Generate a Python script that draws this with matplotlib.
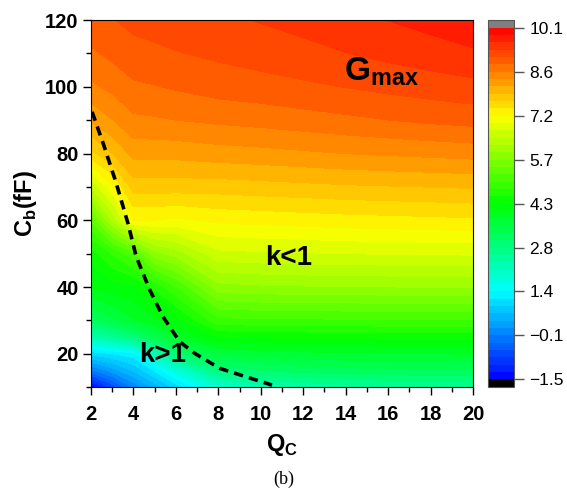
import numpy as np
import matplotlib
matplotlib.use('Agg')
import matplotlib.pyplot as plt
from matplotlib.colors import LinearSegmentedColormap
from matplotlib.ticker import MultipleLocator

# grid
qc = [2, 3, 4, 5, 6, 8, 10, 12, 14, 16, 18, 20]
cb = [10, 15, 20, 25, 30, 40, 50, 60, 70, 80, 90, 100, 110, 120]
g_max = [
    [-1.5, -0.7, 0.0, 0.5, 1.0, 1.9, 2.25, 2.4, 2.5, 2.55, 2.6, 2.62],
    [-0.1, 0.3, 0.7, 1.2, 1.8, 2.9, 3.1, 3.2, 3.25, 3.28, 3.3, 3.3],
    [1.0, 1.15, 1.3, 2.2, 3.0, 3.6, 3.7, 3.75, 3.78, 3.8, 3.82, 3.83],
    [2.3, 2.6, 2.9, 3.4, 3.8, 4.3, 4.33, 4.35, 4.36, 4.37, 4.38, 4.38],
    [3.2, 3.5, 3.8, 4.0, 4.2, 4.95, 4.97, 4.98, 4.99, 5.0, 5.0, 5.0],
    [4.1, 4.2, 4.25, 4.6, 5.0, 5.9, 5.95, 5.97, 5.98, 5.99, 6.0, 6.0],
    [4.4, 4.8, 5.2, 5.9, 6.1, 6.65, 6.68, 6.7, 6.72, 6.73, 6.74, 6.75],
    [5.3, 6.25, 7.2, 7.2, 7.15, 7.25, 7.28, 7.31, 7.34, 7.36, 7.38, 7.4],
    [6.5, 7.15, 7.8, 7.8, 7.8, 7.8, 7.83, 7.86, 7.89, 7.91, 7.93, 7.95],
    [7.6, 7.92, 8.25, 8.25, 8.25, 8.3, 8.33, 8.37, 8.41, 8.44, 8.47, 8.5],
    [8.2, 8.4, 8.6, 8.62, 8.65, 8.7, 8.74, 8.79, 8.84, 8.89, 8.94, 8.98],
    [8.6, 8.72, 8.85, 8.88, 8.92, 9.0, 9.04, 9.09, 9.14, 9.2, 9.25, 9.3],
    [8.85, 8.95, 9.05, 9.08, 9.12, 9.18, 9.24, 9.3, 9.37, 9.44, 9.51, 9.58],
    [9.05, 9.12, 9.2, 9.24, 9.28, 9.33, 9.39, 9.46, 9.54, 9.62, 9.7, 9.8],
]

# k = 1 boundary (dashed)
k1_qc = [2.05, 2.57, 3.19, 3.74, 4.13, 4.77, 5.39, 6.18, 6.89, 8.07, 10.53]
k1_cb = [92.5, 83.1, 71.1, 59.1, 49.1, 39.1, 31.1, 23.6, 20.1, 15.6, 10.6]

cbar_ticks = [-1.5, -0.05, 1.4, 2.85, 4.3, 5.75, 7.2, 8.65, 10.1]
cbar_labels = ['\u22121.5', '\u22120.1', '1.4', '2.8', '4.3', '5.7', '7.2', '8.6', '10.1']

plt.rcParams['font.family'] = ['Liberation Sans', 'DejaVu Sans']
plt.rcParams['mathtext.fontset'] = 'custom'
plt.rcParams['mathtext.rm'] = 'Liberation Sans'
plt.rcParams['mathtext.bf'] = 'Liberation Sans:bold'

fig = plt.figure(figsize=(5.67, 4.95), dpi=100)
ax = fig.add_axes([0.1605, 0.218, 0.6737, 0.7414])
cax = fig.add_axes([0.861, 0.218, 0.0459, 0.7414])

cmap = LinearSegmentedColormap.from_list(
    'rainbow_origin', ['#0000ff', '#00ffff', '#00ff00', '#ffff00', '#ff0000'])
cmap.set_under('black')
cmap.set_over('#808080')
levels = np.linspace(-1.5, 10.1, 49)

cf = ax.contourf(qc, cb, np.array(g_max), levels=levels, cmap=cmap, extend='both')
ax.plot(k1_qc, k1_cb, color='black', lw=2.6, dashes=(2.6, 1.7))

ax.set_xlim(2, 20)
ax.set_ylim(10, 120)
ax.xaxis.set_major_locator(MultipleLocator(2))
ax.xaxis.set_minor_locator(MultipleLocator(1))
ax.yaxis.set_major_locator(MultipleLocator(20))
ax.yaxis.set_minor_locator(MultipleLocator(10))
ax.set_yticks([20, 40, 60, 80, 100, 120])
ax.tick_params(which='major', direction='out', length=6, width=1, labelsize=14.5)
ax.tick_params(which='minor', direction='out', length=3.3, width=1)
ax.tick_params(axis='x', which='major', pad=7)
ax.tick_params(axis='y', which='major', pad=3)
for lab in ax.get_xticklabels() + ax.get_yticklabels():
    lab.set_fontweight('bold')

ax.set_xlabel(r'Q$_\mathbf{C}$', fontsize=17, fontweight='bold', labelpad=6)
ax.set_ylabel(r'C$_\mathbf{b}$(fF)', fontsize=17, fontweight='bold', labelpad=4)

ax.text(13.9, 104.5, r'$\mathbf{G_{max}}$', fontsize=24, ha='left', va='center')
ax.text(11.3, 48.7, 'k<1', fontsize=20, fontweight='bold', ha='center', va='center')
ax.text(5.37, 19.6, 'k>1', fontsize=20, fontweight='bold', ha='center', va='center')

cbar = fig.colorbar(cf, cax=cax, extendrect=True, extendfrac=0.022)
cbar.set_ticks(cbar_ticks)
cbar.set_ticklabels(cbar_labels)
cbar.ax.tick_params(direction='out', length=7, width=1, labelsize=12.5, pad=4,
                    color='#555555')
cbar.outline.set_edgecolor('#555555')
cbar.outline.set_linewidth(0.8)

fig.text(0.5, 0.022, '(b)', fontsize=13, family='Liberation Serif', ha='center')

fig.savefig('out.png', dpi=100)
